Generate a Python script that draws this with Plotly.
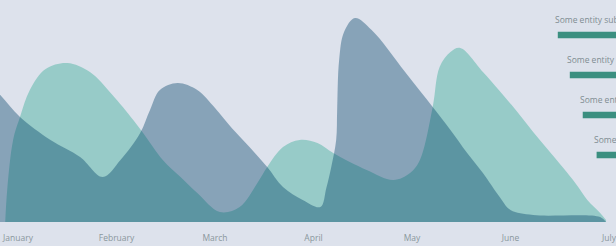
import plotly.graph_objects as go

# Month axis (x in month index units, 0 = January)
months = ["January", "February", "March", "April", "May", "June", "July"]
month_pos = [0, 1, 2, 3, 4, 5, 6]

# Light teal series
teal_x = [-0.13, -0.11, -0.05, 0.02, 0.12, 0.28, 0.50, 0.73, 0.95, 1.17, 1.27, 1.47, 1.65, 1.82,
          2.05, 2.25, 2.43, 2.53, 2.69, 2.86, 3.04, 3.20, 3.54, 3.81, 3.98, 4.08, 4.21, 4.28,
          4.39, 4.49, 4.72, 4.89, 5.07, 5.23, 5.40, 5.57, 5.68, 5.78, 5.91, 5.97]
teal_y = [0, 16, 41, 52.5, 66, 76.5, 79.5, 75, 64, 51, 44.5, 31, 22.5, 14.5,
          5, 7.5, 19.5, 27.5, 37.5, 41, 39.5, 34.5, 26, 21, 24.5, 31, 57.5, 77.5,
          85, 87, 75, 65.5, 55, 45, 35, 25, 18, 11, 4.5, 1]

# Grey-blue series
grey_x = [-0.39, -0.18, 0.02, 0.33, 0.63, 0.86, 1.04, 1.24, 1.34, 1.44, 1.62, 1.82, 2.00, 2.17,
          2.35, 2.53, 2.69, 2.89, 3.07, 3.13, 3.18, 3.23, 3.24, 3.26, 3.31, 3.42, 3.59,
          3.93, 4.21, 4.39, 4.56, 4.72, 4.89, 5.00, 5.23, 5.91, 5.97]
grey_y = [73.5, 63.5, 52.5, 41, 32.5, 22.5, 31, 44.5, 56, 66, 69.5, 66, 57, 47,
          37.5, 27.5, 17.5, 11, 7.5, 17, 27.5, 41, 56, 81, 95, 102, 96,
          75, 57.5, 46, 34.5, 24.5, 12.5, 6, 3.5, 2.5, 0]

# Side list (entity bars)
entity_labels = ["Some entity subtitle", "Some entity subtitle",
                 "Some entity subtitle", "Some entity subtitle"]
entity_values = [63, 50, 36, 21]
entity_idx = [0, 1, 2, 3]

BG = "#dde2ec"

fig = go.Figure()

fig.add_trace(go.Scatter(
    x=teal_x, y=teal_y, mode="lines", line=dict(shape="spline", smoothing=1, width=0),
    fill="tozeroy", fillcolor="#97cbc8", hoverinfo="skip"))

fig.add_trace(go.Scatter(
    x=grey_x, y=grey_y, mode="lines", line=dict(shape="spline", smoothing=1, width=0),
    fill="tozeroy", fillcolor="rgba(0,64,103,0.39)", hoverinfo="skip"))

fig.add_trace(go.Bar(
    x=entity_values, y=entity_idx, orientation="h", width=0.16,
    marker=dict(color="#3b8f80", line=dict(width=0)),
    xaxis="x2", yaxis="y2", hoverinfo="skip"))

annotations = []
for lab, val, i in zip(entity_labels, entity_values, entity_idx):
    annotations.append(dict(
        x=val, y=i, xref="x2", yref="y2", text=lab, showarrow=False,
        xanchor="left", yanchor="bottom", xshift=-5, yshift=8,
        font=dict(family="Open Sans", size=8.5, color="#7f8d92")))

fig.update_layout(
    width=616, height=246,
    margin=dict(l=0, r=0, t=12, b=24),
    paper_bgcolor=BG, plot_bgcolor="rgba(0,0,0,0)",
    showlegend=False,
    xaxis=dict(range=[-0.183, 6.071], tickvals=month_pos, ticktext=months,
               showgrid=False, zeroline=False, showline=False, ticks="",
               ticklabelstandoff=9, ticklabeloverflow="allow",
               tickfont=dict(family="Open Sans", size=8.5, color="#8a979c")),
    yaxis=dict(range=[0, 105], visible=False),
    xaxis2=dict(domain=[0.85, 1], anchor="y2", range=[100, 0], visible=False),
    yaxis2=dict(domain=[0, 1], anchor="x2", range=[4.675, -0.575], visible=False),
    annotations=annotations,
)

fig.write_html("out.html", config={"displayModeBar": False},
               post_script="document.body.style.margin='0';")
